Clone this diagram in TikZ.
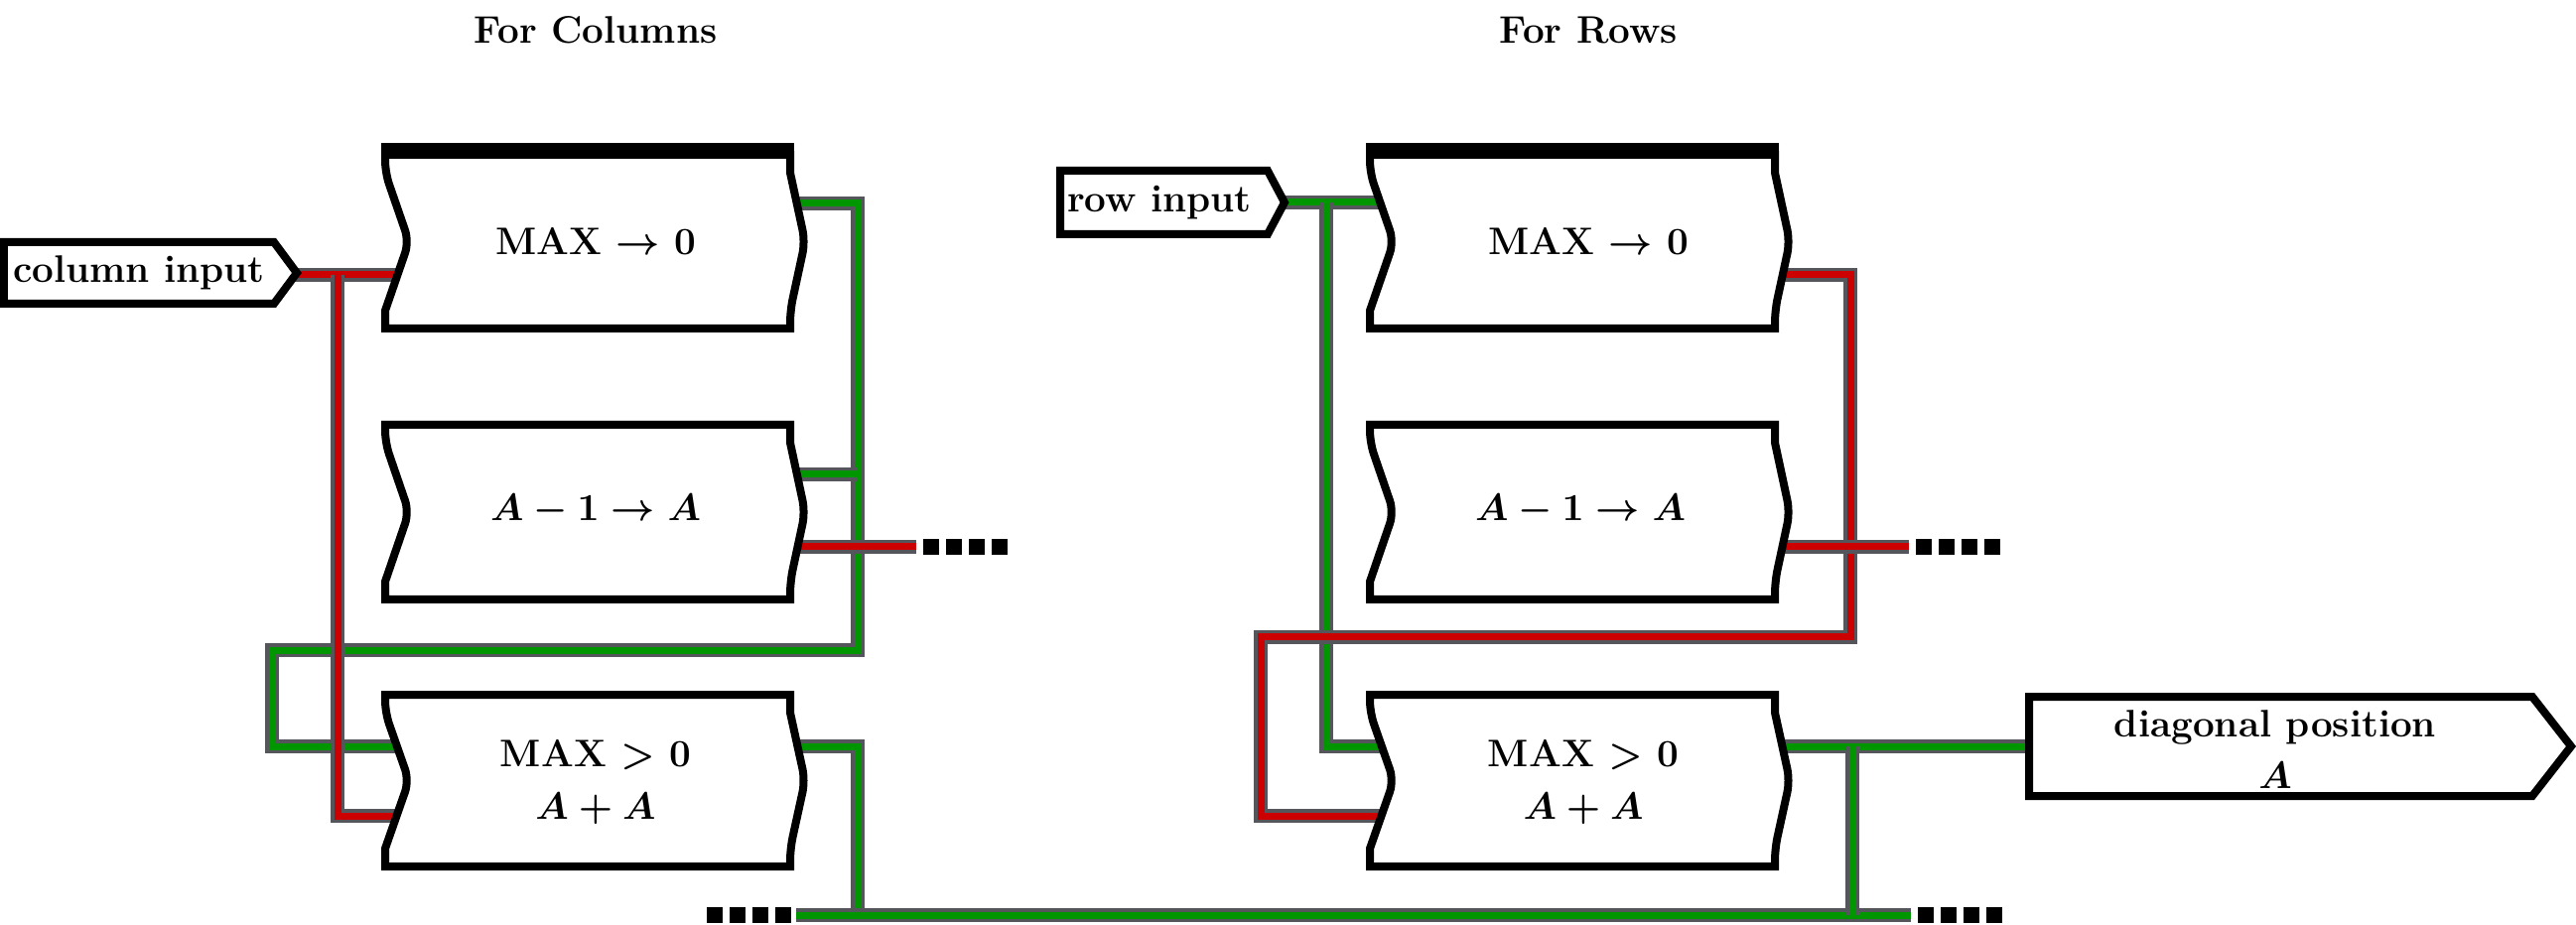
\documentclass[tikz,border=0pt]{standalone}
\usetikzlibrary{backgrounds}
\definecolor{wred}{RGB}{204,0,0}
\definecolor{wgreen}{RGB}{0,150,0}
\definecolor{wshadow}{RGB}{85,85,92}
\newcommand\combox[3]{%
  \draw[boxline] (#1,#2) -- ({#1+408},#2) -- ({#1+408},{#2+18}) [rounded corners=1.2mm] -- ({#1+423},{(#2+#3)/2}) -- ({#1+408},{#3-18}) [sharp corners] -- ({#1+408},#3) -- (#1,#3) -- (#1,{#3-18}) [rounded corners=1.2mm] -- ({#1+24},{(#2+#3)/2}) -- (#1,{#2+18}) [sharp corners] -- cycle;}
\newcommand\fourdots[2]{%
  \foreach \k in {0,1,2,3}{\fill[black] ({#1+23*\k},#2) rectangle ({#1+23*\k+16},{#2+16});}}
\begin{document}
\begin{tikzpicture}[x=0.1mm,y=-0.1mm,
  boxline/.style={draw=black,line width=0.8mm,fill=white,line join=miter},
  lbl/.style={font=\fontsize{11}{13}\selectfont\bfseries\boldmath,inner sep=0pt,align=center},
  ttl/.style={font=\fontsize{11}{13}\selectfont\bfseries,inner sep=0pt},
  wire/.style={line width=0.7mm,preaction={draw=wshadow,line width=1.4mm}},
  rw/.style={wire,draw=wred},
  gw/.style={wire,draw=wgreen}]
\useasboundingbox (0,0) rectangle (2595,932);

% titles
\node[ttl] (tcol) at (600,30) {For Columns};
\node[ttl] (trow) at (1600,30) {For Rows};

% port coordinates
\coordinate (ci) at (290,277);
\coordinate (cb1in) at (420,277);
\coordinate (cb1out) at (790,205);
\coordinate (cb2outg) at (790,478);
\coordinate (cb2outr) at (790,551);
\coordinate (cb3ing) at (420,752);
\coordinate (cb3inr) at (420,822);
\coordinate (cb3out) at (790,752);
\coordinate (ri) at (1288,204);
\coordinate (rb1in) at (1412,204);
\coordinate (rb1out) at (1782,277);
\coordinate (rb2outr) at (1782,551);
\coordinate (rb3ing) at (1412,752);
\coordinate (rb3inr) at (1412,822);
\coordinate (rb3out) at (1782,752);
\coordinate (di) at (2060,752);
\coordinate (cr1) at (340,277);
\coordinate (cg1) at (864,205);
\coordinate (cg2) at (864,478);
\coordinate (cg3) at (864,752);
\coordinate (bl) at (802,922);
\coordinate (br) at (1925,922);
\coordinate (rg1) at (1336,204);
\coordinate (rr1) at (1864,277);
\coordinate (rg3) at (1866,752);
\coordinate (rend2) at (1923,551);
\coordinate (cend2) at (923,551);

% wires (behind boxes)
\begin{scope}[on background layer]
  % column section green
  \draw[gw] (cb1out) -- (cg1) -- (864,655) -- (274,655) -- (274,752) -- (cb3ing);
  \draw[gw] (cb2outg) -- (cg2);
  \draw[gw] (cb3out) -- (cg3) -- (864,922);
  \draw[gw] (bl) -- (br);
  % row section green
  \draw[gw] (ri) -- (rb1in);
  \draw[gw] (rg1) -- (1336,752) -- (rb3ing);
  \draw[gw] (rb3out) -- (di);
  \draw[gw] (rg3) -- (1866,922);
  % column section red
  \draw[rw] (ci) -- (cb1in);
  \draw[rw] (cr1) -- (340,822) -- (cb3inr);
  \draw[rw] (cb2outr) -- (cend2);
  % row section red
  \draw[rw] (rb1out) -- (rr1) -- (1864,642) -- (1270,642) -- (1270,822) -- (rb3inr);
  \draw[rw] (rb2outr) -- (rend2);
\end{scope}

% dots
\fourdots{930}{543}
\fourdots{1930}{543}
\fourdots{712}{914}
\fourdots{1932}{914}

% input / output boxes
\draw[boxline] (4,244) -- (276,244) -- (299,275) -- (276,306) -- (4,306) -- cycle;
\node[lbl] (colin) at (140,275) {column input};
\draw[boxline] (1068,172) -- (1277,172) -- (1294,204) -- (1277,236) -- (1068,236) -- cycle;
\node[lbl] (rowin) at (1168,204) {row input};
\draw[boxline] (2044,702) -- (2551,702) -- (2590,752) -- (2551,802) -- (2044,802) -- cycle;
\node[lbl] (diag) at (2292,755) {diagonal position\\[2pt] $A$};

% column combinators
\combox{388}{156}{331}
\draw[line width=0.8mm] (384,148) -- (800,148);
\node[lbl] (c1) at (600,243) {MAX $\rightarrow$ 0};
\combox{388}{428}{604}
\node[lbl] (c2) at (600,514) {$A-1\rightarrow A$};
\combox{388}{700}{873}
\node[lbl] (c3) at (600,788) {MAX $>$ 0\\[2pt] $A+A$};

% row combinators
\combox{1380}{156}{331}
\draw[line width=0.8mm] (1376,148) -- (1792,148);
\node[lbl] (r1) at (1600,243) {MAX $\rightarrow$ 0};
\combox{1380}{428}{604}
\node[lbl] (r2) at (1592,514) {$A-1\rightarrow A$};
\combox{1380}{700}{873}
\node[lbl] (r3) at (1595,788) {MAX $>$ 0\\[2pt] $A+A$};
\end{tikzpicture}
\end{document}
